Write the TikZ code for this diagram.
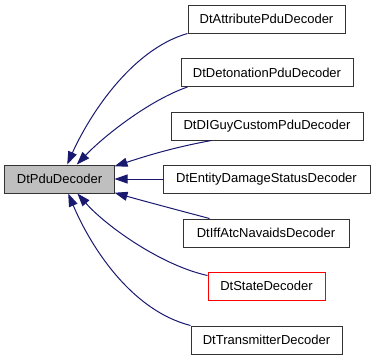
\documentclass[tikz,border=0pt]{standalone}
\usepackage{fontspec}
\setmainfont{Liberation Sans}
\usetikzlibrary{arrows.meta}
\definecolor{edgeblue}{HTML}{191970}
\definecolor{boxgray}{HTML}{BFBFBF}
\definecolor{boxline}{HTML}{333333}
\tikzset{
  cls/.style={draw=boxline, line width=1pt, minimum height=28pt, inner sep=0pt,
    font=\fontsize{13}{15}\selectfont},
  clsred/.style={cls, draw=red},
  base/.style={cls, fill=boxgray},
  inh/.style={draw=edgeblue, line width=1pt,
    -{Triangle[length=13pt,width=9pt]}, edgeblue},
}
\begin{document}
\begin{tikzpicture}[x=1pt,y=-1pt]
\useasboundingbox (0,0) rectangle (376,360);
\node[base, minimum width=109pt] (pdu) at (59.5,179) {DtPduDecoder};
\node[cls, minimum width=157pt] (attr) at (266.5,19) {DtAttributePduDecoder};
\node[cls, minimum width=172pt] (deto) at (267,72.5) {DtDetonationPduDecoder};
\node[cls, minimum width=192pt] (diguy) at (267,126) {DtDIGuyCustomPduDecoder};
\node[cls, minimum width=207pt] (ent) at (266.5,179) {DtEntityDamageStatusDecoder};
\node[cls, minimum width=166pt] (iff) at (266,233) {DtIffAtcNavaidsDecoder};
\node[clsred, minimum width=117pt] (state) at (266.5,286) {DtStateDecoder};
\node[cls, minimum width=151pt] (trans) at (266.5,340) {DtTransmitterDecoder};

\draw[inh] (attr.south west) .. controls (130,50) and (88,118) .. (pdu.62);
\draw[inh] ([xshift=7pt]deto.south west) .. controls (150,100) and (105,135) .. (pdu.40);
\draw[inh] ([xshift=41pt]diguy.south west) .. controls (170,148) and (140,158) .. (pdu.13);
\draw[inh] (ent.west) -- (pdu.east);
\draw[inh] ([xshift=27pt]iff.north west) .. controls (170,208) and (140,200) .. (pdu.-14);
\draw[inh] ([yshift=-4pt]state.north west) .. controls (160,265) and (105,225) .. (pdu.-39);
\draw[inh] (trans.north west) .. controls (130,310) and (90,245) .. (pdu.-59);
\end{tikzpicture}
\end{document}
